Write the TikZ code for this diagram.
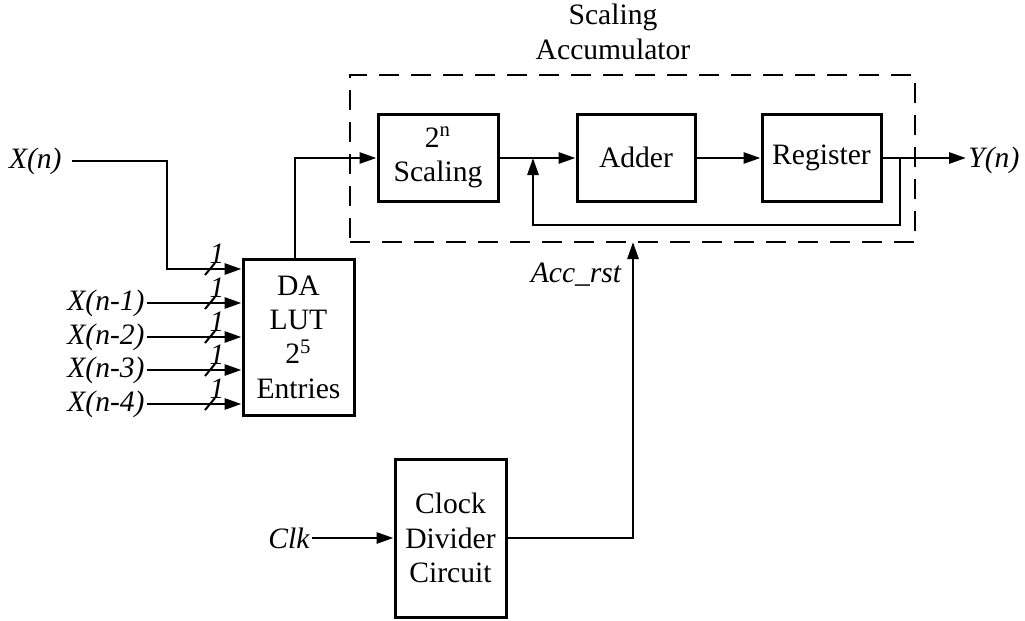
\documentclass[tikz,border=0pt]{standalone}
\usepackage{fontspec}
\setmainfont{Liberation Serif}
\usetikzlibrary{arrows.meta}
\begin{document}
\begin{tikzpicture}[x=0.5pt,y=-0.5pt,
  every node/.style={font=\fontsize{14.8}{17.2}\selectfont},
  blk/.style={draw,line width=1.5pt,align=center,inner sep=0pt},
  wire/.style={line width=1.4pt},
  arr/.style={wire,-{Triangle[length=8.5pt,width=5.5pt]}},
  lbl/.style={font=\fontsize{14.8}{17.2}\selectfont\itshape,inner sep=1pt},
  slash/.style={line width=1pt}]
\useasboundingbox (0,0) rectangle (1025,621);
% accumulator dashed frame
\node[draw,dash pattern=on 10pt off 6pt,line width=1.4pt,minimum width=282.5pt,minimum height=83.5pt,inner sep=0pt] (acc) at (632.5,158.5) {};
\node[align=center] (acclbl) at (613,32) {Scaling\\Accumulator};
% blocks
\node[blk,minimum width=60pt,minimum height=43.5pt] (scal) at (438,157.5) {2\textsuperscript{n}\\Scaling};
\node[blk,minimum width=59pt,minimum height=43.5pt] (add) at (636,157.5) {Adder};
\node[blk,minimum width=59.5pt,minimum height=43.5pt] (reg) at (821.5,157.5) {Register};
\node[blk,minimum width=55.5pt,minimum height=78pt] (lut) at (298.5,337) {DA\\LUT\\2\textsuperscript{5}\\Entries};
\node[blk,minimum width=55.5pt,minimum height=79pt] (clk) at (450.5,538) {Clock\\Divider\\Circuit};
% labels
\node[lbl,anchor=east] (xn) at (64,161) {X(n)};
\node[lbl,anchor=east] (x1) at (147,303) {X(n-1)};
\node[lbl,anchor=east] (x2) at (147,337) {X(n-2)};
\node[lbl,anchor=east] (x3) at (147,370) {X(n-3)};
\node[lbl,anchor=east] (x4) at (147,404) {X(n-4)};
\node[lbl,anchor=west] (yn) at (966,160) {Y(n)};
\node[lbl,anchor=east] (clkin) at (312,538) {Clk};
\node[lbl] (rst) at (576,275) {Acc\_rst};
% coordinates
\coordinate (xa) at (72,161);
\coordinate (xb) at (167,161);
\coordinate (xc) at (167,269);
\coordinate (lo) at (295,259);
\coordinate (lt) at (295,158);
\coordinate (j1) at (900,158);
\coordinate (fb1) at (900,225);
\coordinate (fb2) at (533,225);
\coordinate (j2) at (533,158);
\coordinate (co) at (633,538);
\coordinate (ci) at (633,242);
% wires
\draw[arr] (xa) -- (xb) -- (xc) -- (xc -| lut.west);
\draw[arr] (x1.east) -- (x1.east -| lut.west);
\draw[arr] (x2.east) -- (x2.east -| lut.west);
\draw[arr] (x3.east) -- (x3.east -| lut.west);
\draw[arr] (x4.east) -- (x4.east -| lut.west);
\draw[arr] (lo) -- (lt) -- (lt -| scal.west);
\draw[arr] (scal.east |- j2) -- (j2 -| add.west);
\draw[arr] (add.east |- j2) -- (j2 -| reg.west);
\draw[arr] (reg.east |- j1) -- (yn.west |- j1);
\draw[arr] (j1) -- (fb1) -- (fb2) -- (j2);
\draw[arr] (clkin.east) -- (clk.west);
\draw[arr] (clk.east |- co) -- (co) -- (ci);
% bus slashes and widths
\foreach \yy/\nm in {269/a,303/b,337/c,370/d,404/e}{
  \draw[slash] (205,\yy+6) -- (215,\yy-6);
  \node[lbl] (w\nm) at (217,\yy-15) {1};
}
\end{tikzpicture}
\end{document}
